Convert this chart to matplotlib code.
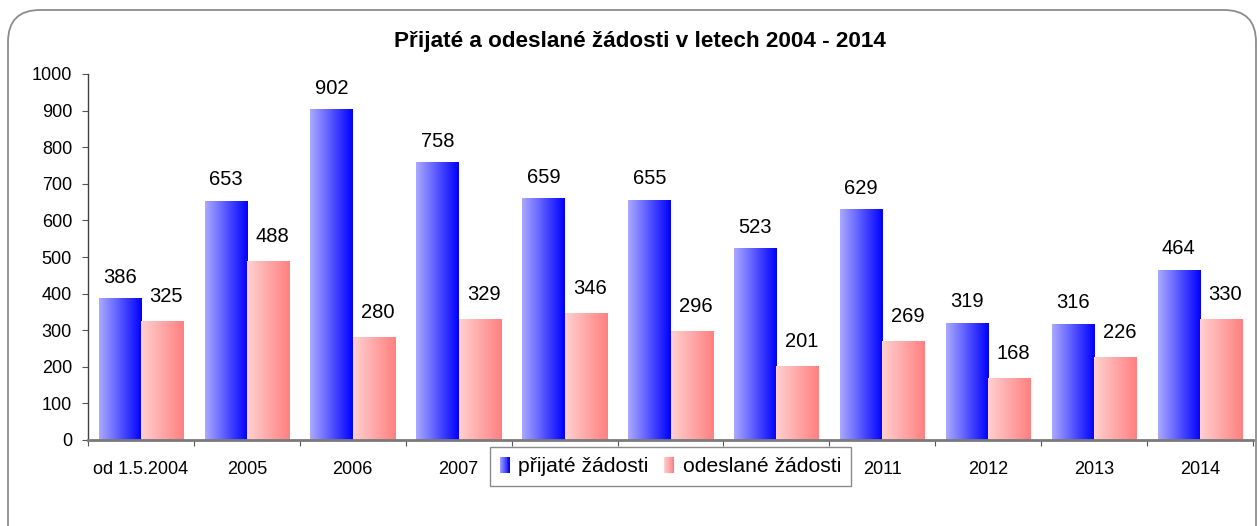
import numpy as np
import matplotlib.pyplot as plt
import matplotlib.transforms as mtransforms
from matplotlib.patches import Rectangle, FancyBboxPatch, Patch
from matplotlib.legend_handler import HandlerBase
from matplotlib.colors import LinearSegmentedColormap, to_rgb

categories = ['od 1.5.2004', '2005', '2006', '2007', '2008', '2009',
              '2010', '2011', '2012', '2013', '2014']
prijate = [386, 653, 902, 758, 659, 655, 523, 629, 319, 316, 464]
odeslane = [325, 488, 280, 329, 346, 296, 201, 269, 168, 226, 330]

title = 'Přijaté a odeslané žádosti v letech 2004 - 2014'
series_names = ['přijaté žádosti', 'odeslané žádosti']

blue = ('#aaaaff', '#0000ff')
red = ('#ffd0d0', '#ff8080')

plt.rcParams['font.family'] = ['Liberation Sans', 'DejaVu Sans']

W, H = 1260, 526
fig = plt.figure(figsize=(W / 100, H / 100), dpi=100)
ax = fig.add_axes([88 / W, 86 / H, 1165 / W, 366 / H])

grad = np.linspace(0, 1, 128).reshape(1, -1)
cm_blue = LinearSegmentedColormap.from_list('b', list(blue))
cm_red = LinearSegmentedColormap.from_list('r', list(red))

w = 0.40
for i, (a, b) in enumerate(zip(prijate, odeslane)):
    c = i + 0.5
    ax.imshow(grad, cmap=cm_blue, extent=(c - w, c, 0, a), aspect='auto',
              interpolation='bilinear', zorder=2)
    ax.imshow(grad, cmap=cm_red, extent=(c, c + w, 0, b), aspect='auto',
              interpolation='bilinear', zorder=2)
    ax.annotate(str(a), (c - w / 2, a), xytext=(0, 11.5), textcoords='offset points',
                ha='center', va='baseline', fontsize=14.5)
    ax.annotate(str(b), (c + w / 2, b), xytext=(3, 14), textcoords='offset points',
                ha='center', va='baseline', fontsize=14.5)

ax.set_xlim(0, len(categories))
ax.set_ylim(0, 1000)
ax.set_yticks(range(0, 1001, 100))
ax.set_xticks(np.arange(len(categories) + 1))
ax.set_xticklabels([])
ax.set_xticks(np.arange(len(categories)) + 0.5, minor=True)
ax.set_xticklabels(categories, minor=True)
ax.tick_params(axis='x', which='major', length=4, color='#555555', direction='out')
ax.tick_params(axis='x', which='minor', length=0, pad=15, labelsize=13)
ax.tick_params(axis='y', length=4, color='#555555', pad=7.5, labelsize=13)

for s in ('top', 'right'):
    ax.spines[s].set_visible(False)
ax.spines['left'].set_color('#404040')
ax.spines['left'].set_linewidth(1)
ax.spines['bottom'].set_color('#7a7a7a')
ax.spines['bottom'].set_linewidth(2)
ax.spines['bottom'].set_zorder(3)


class GradHandler(HandlerBase):
    def __init__(self, c0, c1):
        super().__init__()
        self.c0 = np.array(to_rgb(c0))
        self.c1 = np.array(to_rgb(c1))

    def create_artists(self, legend, orig_handle, xdescent, ydescent,
                       width, height, fontsize, trans):
        n = 12
        arts = []
        for k in range(n):
            t = k / (n - 1)
            col = self.c0 * (1 - t) + self.c1 * t
            r = Rectangle((-xdescent + k * width / n, -ydescent), width / n + 0.01, height,
                          facecolor=col, edgecolor='none', transform=trans)
            arts.append(r)
        return arts


h1 = Patch(label=series_names[0])
h2 = Patch(label=series_names[1])
leg = fig.legend([h1, h2], series_names,
                 handler_map={h1: GradHandler(*blue), h2: GradHandler(*red)},
                 loc='upper left', bbox_to_anchor=(490 / W, 1 - 447 / H),
                 ncol=2, fontsize=15.2, frameon=True, fancybox=False,
                 edgecolor='#8a8a8a', framealpha=1, handlelength=0.5,
                 handleheight=0.85, handletextpad=0.4, columnspacing=0.7,
                 borderpad=0.45, borderaxespad=0)
leg.get_frame().set_linewidth(1)
leg.set_zorder(10)

fig.text(640 / W, 1 - 42 / H, title, ha='center', va='center',
         fontsize=16.2, fontweight='bold')

frame = FancyBboxPatch((8, -40), 1248, 556,
                       boxstyle='round,pad=0,rounding_size=32',
                       transform=mtransforms.IdentityTransform(),
                       facecolor='none', edgecolor='#8c8c8c', linewidth=1.3)
fig.add_artist(frame)

fig.savefig('out.png', dpi=100)
